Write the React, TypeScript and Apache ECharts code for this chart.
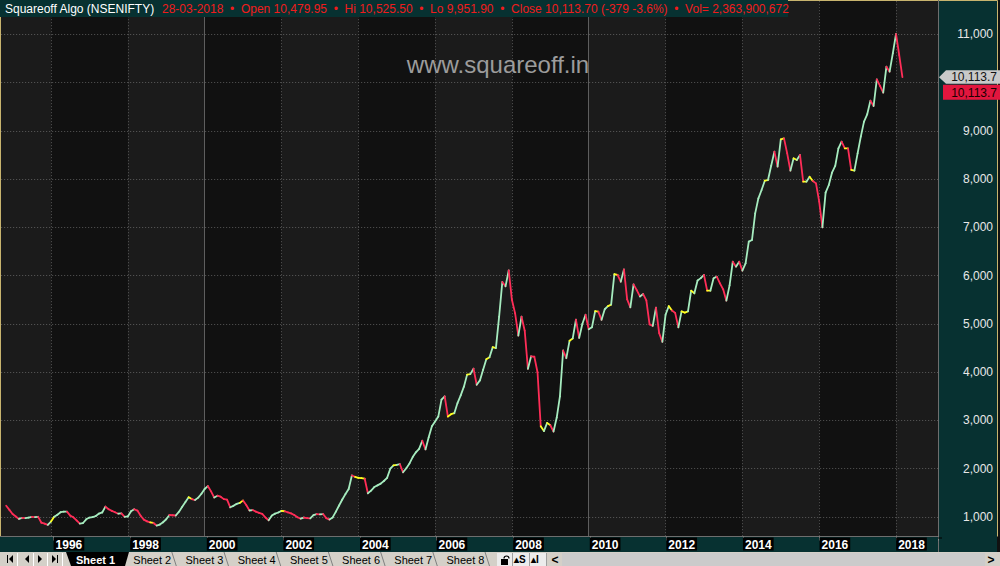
import React, { useEffect, useRef } from "react";
import * as echarts from "echarts";

// ---- data ----
const START_YEAR = 1994;
const START_MONTH = 11; // first monthly close: Nov 1994
const CLOSES: number[] = [
  1233, 1147,
  1061, 1010, 959, 979, 974, 986, 1001, 996, 1003, 880, 862, 835,
  905, 1003, 1047, 1098, 1109, 1110, 1027, 993, 927, 861, 874, 951,
  987, 996, 1020, 1070, 1093, 1215, 1160, 1126, 1098, 1067, 1075, 1000,
  1010, 1117, 1160, 1132, 1024, 945, 909, 888, 876, 822, 843, 890,
  952, 1040, 1035, 1030, 1110, 1209, 1308, 1410, 1370, 1351, 1400, 1480,
  1580, 1640, 1530, 1402, 1440, 1420, 1370, 1360, 1200, 1230, 1271, 1292,
  1340, 1248, 1134, 1143, 1111, 1083, 1064, 989, 930, 1028, 1069, 1092,
  1125, 1118, 1096, 1073, 1040, 994, 965, 988, 975, 970, 1038, 1058,
  1055, 1060, 976, 945, 990, 1110, 1237, 1362, 1474, 1580, 1860, 1830,
  1812, 1803, 1792, 1490, 1545, 1620, 1655, 1690, 1745, 1810, 2000, 2068,
  2080, 2093, 1925, 2010, 2110, 2240, 2340, 2410, 2580, 2400, 2650, 2880,
  2980, 3080, 3430, 3500, 3080, 3130, 3150, 3360, 3520, 3700, 3950, 3960,
  4075, 3740, 3830, 4050, 4270, 4310, 4520, 4500, 5150, 5870, 5780, 6110,
  5500, 5220, 4760, 5150, 4860, 4070, 4330, 4320, 4000, 2880, 2780, 2950,
  2900, 2770, 3060, 3500, 4450, 4290, 4650, 4700, 5090, 4710, 5000, 5190,
  4890, 4930, 5265, 5255, 5085, 5305, 5370, 5400, 6030, 6015, 5875, 6130,
  5510, 5345, 5820, 5700, 5570, 5620, 5490, 4990, 4960, 5340, 4810, 4630,
  5190, 5370, 5280, 5230, 4930, 5260, 5235, 5260, 5690, 5635, 5900, 5950,
  6015, 5690, 5690, 5946, 5980, 5842, 5718, 5483, 5800, 6290, 6187, 6291,
  6105, 6256, 6706, 6740, 7293, 7604, 7776, 7969, 7983, 8280, 8571, 8260,
  8826, 8847, 8536, 8177, 8433, 8398, 8502, 7949, 7949, 8052, 7963, 7914,
  7535, 7003, 7721, 7880, 8135, 8274, 8640, 8778, 8640, 8640, 8191, 8177,
  8536, 8882, 9193, 9345, 9628, 9517, 10070, 9932, 9794, 10332, 10229, 10609,
  11009, 10574, 10114,
];
// segments (ending at these month indices) drawn in yellow
const FLAT_SEGMENTS: number[] = [
  15, 46, 58, 74, 87, 110, 111, 112, 122, 139, 140, 145, 151, 153, 168, 170,
  177, 185, 189, 191, 208, 212, 213, 215, 220, 238, 243, 247, 250, 252, 263, 265,
];
const X_MIN = 1994;
const X_MAX = 2020;
const X_INTERVAL = 2;
const DECADE_LINES = [2000, 2010];
const Y_MIN = 0;
const Y_MAX = 12000;
const Y_INTERVAL = 1000;
const Y_LABEL_MIN = 1000;
const Y_LABEL_MAX = 11000;
const LAST_CLOSE = 10113.7;
const LAST_LABEL = "10,113.7";
const TITLE_NAME = "Squareoff Algo (NSENIFTY)";
const TITLE_QUOTE =
  "28-03-2018  \u2022  Open 10,479.95  \u2022  Hi 10,525.50  \u2022  Lo 9,951.90  \u2022  Close 10,113.70 (-379 -3.6%)  \u2022  Vol= 2,363,900,672";
const WATERMARK = "www.squareoff.in";
const SHEETS = ["Sheet 1", "Sheet 2", "Sheet 3", "Sheet 4", "Sheet 5", "Sheet 6", "Sheet 7", "Sheet 8"];

// ---- styles / layout (page pixels) ----
const FONT = '"Liberation Sans", Arial, sans-serif';
const TEAL = "#073131";
const UP = "#a6ecbf";
const DOWN = "#ff2d57";
const FLAT = "#ffff1e";
const GRID_DOT = "#575757";
const PX_PER_YEAR = 38.41;
const X_1996_PX = 51;
const PANEL_X = 938;
const Y_ZERO_PX = 565.2;
const PX_PER_UNIT = 0.04825;
const BAND_TOP = 536.5;
// the chart canvas is shifted up/left so that the axis minima (1994, 0)
// fall inside it while the visible page keeps the reference layout
const OX = 26;
const OY = 14;
const W = 1000 + OX;
const H = 566 + OY;

const monthX = (k: number) => START_YEAR + (START_MONTH - 1 + k) / 12;
const fmtThousands = (v: number) => String(v).replace(/\B(?=(\d{3})+(?!\d))/g, ",");

export default function App() {
  const ref = useRef<HTMLDivElement>(null);
  useEffect(() => {
    if (!ref.current) return;
    const chart = echarts.init(ref.current, undefined, { renderer: "svg" });
    const flatSet = new Set(FLAT_SEGMENTS);
    const segs: number[][] = [];
    for (let k = 1; k < CLOSES.length; k++) {
      const t = flatSet.has(k) ? 2 : CLOSES[k] >= CLOSES[k - 1] ? 0 : 1;
      segs.push([monthX(k - 1), CLOSES[k - 1], monthX(k), CLOSES[k], t]);
    }
    const colors = [UP, DOWN, FLAT];

    // chart-space layout
    const left = OX + X_1996_PX - (1996 - X_MIN) * PX_PER_YEAR;
    const mainRight = left + (X_MAX - X_MIN) * PX_PER_YEAR;
    const top = OY + Y_ZERO_PX - Y_MAX * PX_PER_UNIT;
    const bottomEdge = OY + Y_ZERO_PX;
    const panelC = OX + PANEL_X;
    const labelXMax = X_MIN + (panelC - left) / PX_PER_YEAR;
    const dotted = { show: true, lineStyle: { color: GRID_DOT, type: [1, 2], width: 1 } };

    chart.setOption({
      animation: false,
      backgroundColor: "#111111",
      textStyle: { fontFamily: FONT },
      grid: [
        { left, right: W - mainRight, top, bottom: H - bottomEdge, show: false },
        { left, right: W - panelC, top, bottom: H - bottomEdge, show: false },
        { left, right: W - panelC, top: OY, bottom: H - (OY + BAND_TOP), show: false },
      ],
      xAxis: [
        {
          type: "value", gridIndex: 0, min: X_MIN, max: X_MAX, interval: X_INTERVAL,
          axisLine: { show: false }, axisTick: { show: false }, axisLabel: { show: false },
          splitLine: dotted,
          splitArea: { show: true, areaStyle: { color: ["rgba(255,255,255,0.042)", "rgba(0,0,0,0)"] } },
        },
        { type: "value", gridIndex: 1, min: 0, max: 1, show: false },
        {
          // year labels in the date band
          type: "value", gridIndex: 2, min: X_MIN, max: labelXMax, interval: X_INTERVAL, z: 200,
          position: "bottom",
          axisLine: { show: false },
          axisTick: { show: true, length: 4, lineStyle: { color: "#8c8c8c" } },
          splitLine: { show: false },
          axisLabel: {
            show: true, margin: 1, align: "left", verticalAlign: "top",
            color: "#ffffff", fontWeight: "bold", fontSize: 12, fontFamily: FONT,
            backgroundColor: "#000000", padding: [1, 2, 0, 2],
            formatter: (v: number) =>
              Math.abs(v - Math.round(v)) < 1e-6 && v > X_MIN && v < labelXMax ? String(Math.round(v)) : "",
          },
        },
      ],
      yAxis: [
        {
          type: "value", gridIndex: 0, min: Y_MIN, max: Y_MAX, interval: Y_INTERVAL,
          axisLine: { show: false }, axisTick: { show: false }, axisLabel: { show: false },
          splitLine: dotted,
        },
        {
          type: "value", gridIndex: 1, min: Y_MIN, max: Y_MAX, interval: Y_INTERVAL, z: 200,
          position: "right",
          axisLine: { show: false },
          axisTick: { show: true, length: 4, lineStyle: { color: "#8c8c8c" } },
          splitLine: { show: false },
          axisLabel: {
            show: true, margin: 55, align: "right", color: "#e8e8e8", fontSize: 12, fontFamily: FONT,
            // the value hidden under the last-price tags is not printed
            formatter: (v: number) =>
              v >= Y_LABEL_MIN && v <= Y_LABEL_MAX && Math.abs(v - LAST_CLOSE) > 400 ? fmtThousands(v) : "",
          },
        },
        { type: "value", gridIndex: 2, min: 0, max: 1, show: false },
      ],
      series: [
        {
          type: "custom",
          xAxisIndex: 0,
          yAxisIndex: 0,
          dimensions: ["x0", "y0", "x1", "y1", "t"],
          encode: { x: ["x0", "x1"], y: ["y0", "y1"] },
          data: segs,
          renderItem: (_params: any, api: any) => {
            const a = api.coord([api.value(0), api.value(1)]);
            const b = api.coord([api.value(2), api.value(3)]);
            const t = api.value(4);
            return {
              type: "line",
              shape: { x1: a[0], y1: a[1], x2: b[0], y2: b[1] },
              style: { stroke: colors[t], lineWidth: 1.8, lineCap: "round" },
            };
          },
          markLine: {
            silent: true,
            symbol: "none",
            label: { show: false },
            lineStyle: { color: "#5e5e5e", type: "solid", width: 1 },
            data: DECADE_LINES.map((d) => ({ xAxis: d })),
          },
          z: 5,
        },
      ],
    });

    const lastPt = chart.convertToPixel({ gridIndex: 0 } as any, [monthX(CLOSES.length - 1), LAST_CLOSE]) as number[];
    const yl = lastPt[1] - OY; // page coordinates

    const g: any[] = [];
    const add = (el: any) => g.push({ silent: true, ...el });
    // watermark
    add({
      type: "text", x: 498, y: 64, z: 50,
      style: { text: WATERMARK, fill: "#9c9c9c", font: `24px ${FONT}`, align: "center", verticalAlign: "middle" },
    });
    // pane border
    add({
      type: "polyline", z: 99,
      shape: { points: [[0.5, BAND_TOP], [0.5, 0.5], [997.5, 0.5], [997.5, BAND_TOP]] },
      style: { stroke: "#c8b46e", lineWidth: 1, fill: "none" },
    });
    // right axis panel
    add({ type: "rect", z: 100, shape: { x: PANEL_X, y: 1, width: 1000 - PANEL_X - 3, height: 551 }, style: { fill: TEAL } });
    add({ type: "line", z: 101, shape: { x1: PANEL_X + 0.5, y1: 0, x2: PANEL_X + 0.5, y2: 552 }, style: { stroke: "#6e6e6e", lineWidth: 1 } });
    // bottom date band
    add({ type: "rect", z: 100, shape: { x: 0, y: BAND_TOP, width: PANEL_X, height: 552 - BAND_TOP }, style: { fill: TEAL } });
    add({ type: "line", z: 101, shape: { x1: 0, y1: BAND_TOP, x2: PANEL_X, y2: BAND_TOP }, style: { stroke: "#6e6e6e", lineWidth: 1 } });
    // title box
    add({ type: "rect", z: 100, shape: { x: 0, y: 0, width: 788, height: 17 }, style: { fill: TEAL } });
    add({
      type: "text", x: 5, y: 9, z: 101,
      style: { text: TITLE_NAME, fill: "#ffffff", font: `12px ${FONT}`, verticalAlign: "middle" },
    });
    add({
      type: "text", x: 162, y: 9, z: 101,
      style: { text: TITLE_QUOTE, fill: "#f01c1c", font: `12px ${FONT}`, verticalAlign: "middle" },
    });
    // price tags
    add({
      type: "polygon", z: 300,
      shape: { points: [[939, yl], [946, yl - 7], [1000, yl - 7], [1000, yl + 6.5], [946, yl + 6.5]] },
      style: { fill: "#c9c9c9" },
    });
    add({
      type: "text", x: 997, y: yl - 0.5, z: 301,
      style: { text: LAST_LABEL, fill: "#111111", font: `12px ${FONT}`, align: "right", verticalAlign: "middle", lineHeight: 12 },
    });
    add({ type: "rect", z: 300, shape: { x: 943, y: yl + 7.5, width: 57, height: 15 }, style: { fill: "#e2163e" } });
    add({
      type: "text", x: 997, y: yl + 15.5, z: 301,
      style: { text: LAST_LABEL, fill: "#1a0000", font: `12px ${FONT}`, align: "right", verticalAlign: "middle", lineHeight: 12 },
    });
    // tab row
    add({ type: "rect", z: 100, shape: { x: 0, y: 552, width: 1000, height: 14 }, style: { fill: "#d4d0c8" } });
    const navY = 559;
    const tri = (pts: number[][]) => add({ type: "polygon", z: 102, shape: { points: pts }, style: { fill: "#000000" } });
    add({ type: "line", z: 102, shape: { x1: 7.5, y1: navY - 4, x2: 7.5, y2: navY + 4 }, style: { stroke: "#000", lineWidth: 1 } });
    tri([[13, navY - 4], [13, navY + 4], [9, navY]]);
    tri([[29, navY - 4], [29, navY + 4], [25, navY]]);
    tri([[38, navY - 4], [38, navY + 4], [42, navY]]);
    tri([[52, navY - 4], [52, navY + 4], [56, navY]]);
    add({ type: "line", z: 102, shape: { x1: 57.5, y1: navY - 4, x2: 57.5, y2: navY + 4 }, style: { stroke: "#000", lineWidth: 1 } });
    [17.5, 33.5, 47.5, 62.5].forEach((x) =>
      add({ type: "line", z: 101, shape: { x1: x, y1: 553, x2: x, y2: 566 }, style: { stroke: "#ffffff", lineWidth: 1 } })
    );
    // active tab
    add({
      type: "polygon", z: 101,
      shape: { points: [[66, 552], [129, 552], [125, 566], [71, 566]] },
      style: { fill: "#000000" },
    });
    add({
      type: "text", x: 76, y: 559.5, z: 102,
      style: { text: SHEETS[0], fill: "#ffffff", font: `bold 11px ${FONT}`, verticalAlign: "middle" },
    });
    SHEETS.slice(1).forEach((s, i) => {
      const x = 133.3 + i * 52.2;
      add({
        type: "text", x, y: 559.5, z: 102,
        style: { text: s, fill: "#000000", font: `11px ${FONT}`, verticalAlign: "middle" },
      });
      add({
        type: "line", z: 102,
        shape: { x1: x + 38.5, y1: 552, x2: x + 43, y2: 566 },
        style: { stroke: "#808080", lineWidth: 1 },
      });
    });
    // icons + scrollbar
    add({ type: "rect", z: 101, shape: { x: 497, y: 553, width: 50, height: 13 }, style: { fill: "#ececec" } });
    add({ type: "rect", z: 102, shape: { x: 501, y: 559, width: 7, height: 6 }, style: { fill: "#000000" } });
    add({
      type: "arc", z: 102,
      shape: { cx: 506.5, cy: 558.5, r: 2.5, startAngle: Math.PI, endAngle: 2 * Math.PI },
      style: { stroke: "#000000", lineWidth: 1.2, fill: "none" },
    });
    add({ type: "text", x: 514, y: 559.5, z: 102, style: { text: "\u25B4S", fill: "#000", font: `bold 10px ${FONT}`, verticalAlign: "middle" } });
    add({ type: "text", x: 531, y: 559.5, z: 102, style: { text: "\u25B4I", fill: "#000", font: `bold 10px ${FONT}`, verticalAlign: "middle" } });
    [512.5, 529.5, 546.5].forEach((x) =>
      add({ type: "line", z: 102, shape: { x1: x, y1: 553, x2: x, y2: 566 }, style: { stroke: "#a0a0a0", lineWidth: 1 } })
    );
    add({ type: "rect", z: 101, shape: { x: 562, y: 553, width: 423, height: 13 }, style: { fill: "#cbcbcb" } });
    add({ type: "text", x: 555, y: 559.5, z: 102, style: { text: "<", fill: "#000", font: `bold 12px ${FONT}`, align: "center", verticalAlign: "middle" } });
    add({ type: "text", x: 991, y: 559.5, z: 102, style: { text: ">", fill: "#000", font: `bold 12px ${FONT}`, align: "center", verticalAlign: "middle" } });

    chart.setOption({
      graphic: [{ type: "group", x: OX, y: OY, z: 100, children: g }],
    });

    return () => chart.dispose();
  }, []);
  return (
    <div
      ref={ref}
      style={{ position: "fixed", left: -OX, top: -OY, width: W, height: H, background: "#111" }}
    />
  );
}
